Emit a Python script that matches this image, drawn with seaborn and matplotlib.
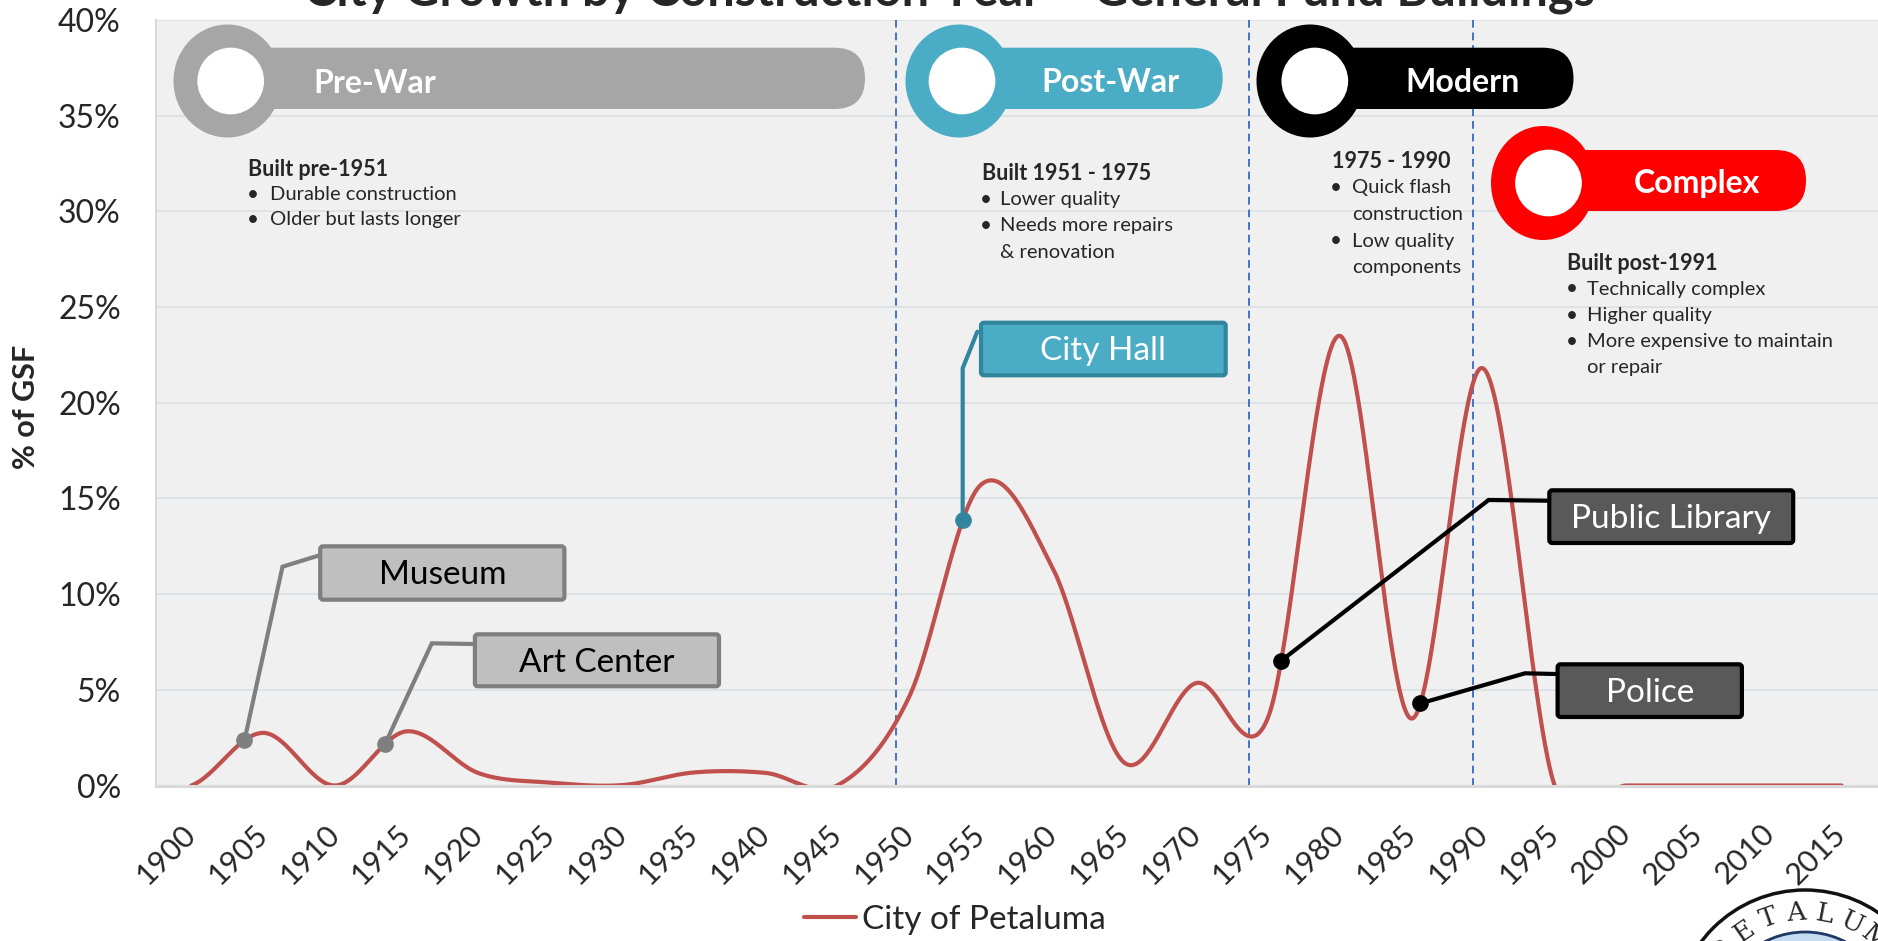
import numpy as np
import pandas as pd
import matplotlib
matplotlib.use("Agg")
import matplotlib.pyplot as plt
import matplotlib.transforms as mtransforms
from matplotlib.patches import Ellipse, FancyBboxPatch
from matplotlib.lines import Line2D
import seaborn as sns

# ---------------- data ----------------
years = list(range(1900, 2020, 5))
gsf_pct = [0.0, 2.75, 0.0, 2.83, 0.65, 0.15, 0.02, 0.68, 0.66, 0.0,
           4.6, 15.7, 11.4, 1.2, 5.35, 3.5, 23.5, 3.5, 21.8, 0.0,
           0.0, 0.0, 0.0, 0.0]
series_name = "City of Petaluma"
y_ticks = [0, 5, 10, 15, 20, 25, 30, 35, 40]
y_tick_labels = [f"{v}%" for v in y_ticks]
era_boundaries = [1949.1, 1973.7, 1989.3]
era_names = ["Pre-War", "Post-War", "Modern", "Complex"]
callout_labels = ["Museum", "Art Center", "City Hall", "Public Library", "Police"]
callout_years = [1903.7, 1913.5, 1953.75, 1975.95, 1985.65]
title = "City Growth by Construction Year \u2013 General Fund Buildings"

# ---------------- style ----------------
sns.set_theme(style="white")
plt.rcParams['font.family'] = ['Lato', 'DejaVu Sans']

W, H = 1878, 941
fig = plt.figure(figsize=(W / 100, H / 100), dpi=100, facecolor='white')
ax = fig.add_axes([155.5 / W, (H - 785.5) / H, (1877.5 - 155.5) / W, (785.5 - 20) / H])
ax.set_facecolor('#F0F0F0')
T = mtransforms.Affine2D().scale(1, -1).translate(0, H)  # top-left pixel coords


def excel_smooth(xv, yv, n=80):
    P = np.r_[yv[0], yv, yv[-1]]
    xs, ys = [], []
    for i in range(len(yv) - 1):
        p0, p1, p2, p3 = P[i:i + 4]
        c1 = p1 + (p2 - p0) / 6
        c2 = p2 - (p3 - p1) / 6
        t = np.linspace(0, 1, n, endpoint=False)
        ys.append((1 - t) ** 3 * p1 + 3 * (1 - t) ** 2 * t * c1 + 3 * (1 - t) * t ** 2 * c2 + t ** 3 * p2)
        xs.append(xv[i] + t * (xv[i + 1] - xv[i]))
    xs.append([xv[-1]])
    ys.append([yv[-1]])
    return np.concatenate(xs), np.concatenate(ys)


sx, sy = excel_smooth(np.array(years, float), np.array(gsf_pct, float))
df = pd.DataFrame({"Year": sx, "GSF": sy, "Series": series_name})
red = "#C0504D"
sns.lineplot(data=df, x="Year", y="GSF", hue="Series", palette=[red], estimator=None,
             sort=False, lw=3.0, ax=ax)

ax.set_xlim(1897.5, 2017.5)
ax.set_ylim(0, 40)
ax.set_yticks(y_ticks)
ax.set_yticklabels(y_tick_labels, fontsize=23)
ax.set_xticks(years)
ax.set_xticklabels([str(y) for y in years], rotation=45, ha='right', va='center',
                   rotation_mode='anchor', fontsize=22)
ax.tick_params(axis='x', length=0, pad=31.5)
ax.tick_params(axis='y', length=0, pad=25)
ax.set_xlabel("")
ax.set_ylabel("")
ax.yaxis.grid(True, color='#DCE1E6', lw=1.3)
ax.xaxis.grid(False)
ax.set_axisbelow(True)
for s in ['top', 'right']:
    ax.spines[s].set_visible(False)
ax.spines['left'].set_color('#D9D9D9')
ax.spines['left'].set_linewidth(1.5)
ax.spines['bottom'].set_color('#D9D9D9')
ax.spines['bottom'].set_linewidth(2.2)

for b in era_boundaries:
    ax.axvline(b, color='#4472C4', lw=1.4, ls=(0, (4, 2.5)), zorder=1)

# legend
h, l = ax.get_legend_handles_labels()
ax.legend(h[-1:], [series_name], loc='center', bbox_to_anchor=(955 / W, 1 - 920 / H),
          bbox_transform=fig.transFigure, frameon=False, fontsize=24,
          handlelength=1.55, handletextpad=0.18)

fig.text(26, 407, "% of GSF", transform=T, rotation=90, ha='center', va='center',
         fontsize=22, fontweight='bold')

fig.text(949, 6, title, transform=T, ha='center', va='baseline', fontsize=35,
         fontweight='bold')

# ---------------- era banners ----------------
banners = [
    # ring cx, cy, w, h, white cx, bar right, bar top, bar bottom, color, label cx, label baseline
    (227.5, 81, 108, 113, 230.7, 865, 47.7, 109, '#A6A6A6', 375, 93),
    (959, 81, 107, 113, 962, 1222.7, 47.7, 109, '#4BACC6', 1110.5, 92),
    (1310, 81, 107, 113, 1314.8, 1573.5, 47.7, 109, '#000000', 1463, 92),
    (1543, 183, 104, 114, 1548.5, 1806, 150, 211, '#FF0000', 1696.5, 193.5),
]
for (cx, cy, rw, rh, wx, br, bt, bb, col, lx, lb), name in zip(banners, era_names):
    bar = FancyBboxPatch((cx, bt), br - cx, bb - bt,
                         boxstyle=f"round,pad=0,rounding_size={(bb - bt) / 2}",
                         transform=T, fc=col, ec='none', zorder=3)
    fig.add_artist(bar)
    fig.add_artist(Ellipse((cx, cy), rw, rh, transform=T, fc=col, ec='none', zorder=3))
    fig.add_artist(Ellipse((wx, cy), 66.7, 66.7, transform=T, fc='white', ec='none', zorder=3))
    fig.text(lx, lb, name, transform=T, ha='center', va='baseline', color='white',
             fontsize=23, fontweight='bold', zorder=4)

# ---------------- era descriptions ----------------
blocks = [
    (248, 252.9, 269.6, [(169, "Built pre-1951", 'h'), (195, "Durable construction", 'b'),
                         (220, "Older but lasts longer", 'b')]),
    (982, 986, 1000.5, [(173, "Built 1951 - 1975", 'h'), (200, "Lower quality", 'b'),
                        (225.7, "Needs more repairs", 'b'), (252, "& renovation", 'c')]),
    (1332.4, 1336, 1352, [(162, "1975 - 1990", 'h'), (188, "Quick flash", 'b'),
                          (214, "construction", 'c'), (241, "Low quality", 'b'),
                          (267.7, "components", 'c')]),
    (1567, 1571.7, 1587, [(263, "Built post-1991", 'h'), (289, "Technically complex", 'b'),
                          (316, "Higher quality", 'b'), (342, "More expensive to maintain", 'b'),
                          (368, "or repair", 'c')]),
]
for hx, bx, tx, lines in blocks:
    for yy, txt, kind in lines:
        if kind == 'h':
            fig.text(hx, yy, txt, transform=T, ha='left', va='center', fontsize=15.5,
                     fontweight='bold', zorder=4)
        else:
            if kind == 'b':
                fig.text(bx, yy, "\u2022", transform=T, ha='center', va='center',
                         fontsize=15, zorder=4)
            fig.text(tx, yy, txt, transform=T, ha='left', va='center', fontsize=14.5, zorder=4)

# ---------------- callouts ----------------
callout_style = [
    # elbow, end, box (x0, y0, x1, y1), fill, edge, text color
    ((282.5, 566.7), (318.2, 555.7), (318.2, 544.3, 566.4, 601.7), '#BFBFBF', '#7F7F7F', 'black'),
    ((431.8, 643.3), (472.9, 644), (472.9, 632.3, 721, 688.3), '#BFBFBF', '#7F7F7F', 'black'),
    ((None, 368.3), (977.3, 331.7), (979, 320.7, 1227.7, 377.3), '#4BACC6', '#31859C', 'white'),
    ((1488.6, 500), (1547.3, 500.7), (1547.3, 488.3, 1795.2, 545), '#595959', '#000000', 'white'),
    ((1525, 673.3), (1555.6, 674), (1555.6, 662.3, 1743.9, 719), '#595959', '#000000', 'white'),
]
for label, cyear, (elb, end, box, fc, ec, tc) in zip(callout_labels, callout_years, callout_style):
    val = np.interp(cyear, sx, sy)
    dx, dy = ax.transData.transform((cyear, val))
    px, py = dx, H - dy
    ex = px if elb[0] is None else elb[0]
    fig.add_artist(Line2D([px, ex, end[0]], [py, elb[1], end[1]], transform=T, color=ec,
                          lw=3, solid_joinstyle='miter', zorder=5))
    fig.add_artist(Line2D([px], [py], transform=T, marker='o', markersize=11, color=ec,
                          ls='none', zorder=5))
    x0, y0, x1, y1 = box
    fig.add_artist(FancyBboxPatch((x0 + 2, y0 + 2), x1 - x0 - 4, y1 - y0 - 4,
                                  boxstyle="round,pad=0,rounding_size=3", transform=T,
                                  fc=fc, ec=ec, lw=3, zorder=5))
    fig.text((x0 + x1) / 2, (y0 + y1) / 2 + 2.5, label, transform=T, ha='center', va='center',
             color=tc, fontsize=24, zorder=6)

# ---------------- seal (partially visible) ----------------
scx, scy = 1805, 1020
fig.add_artist(Ellipse((scx, scy), 260, 260, transform=T, fc='white', ec='#111111', lw=2.5, zorder=3))
fig.add_artist(Ellipse((scx, scy), 176, 176, transform=T, fc='#C5DCF0', ec='#1F3864', lw=2, zorder=3))
word = "PETALUMA"
for i, ch in enumerate(word):
    ang = np.deg2rad(87 + (3.5 - i) * 15)
    lx = scx + 108 * np.cos(ang)
    ly = scy - 108 * np.sin(ang)
    fig.text(lx, ly, ch, transform=T, ha='center', va='center', rotation=np.rad2deg(ang) - 90,
             fontsize=19, family='DejaVu Serif', zorder=4)

fig.savefig("out.png", dpi=100, facecolor='white')
